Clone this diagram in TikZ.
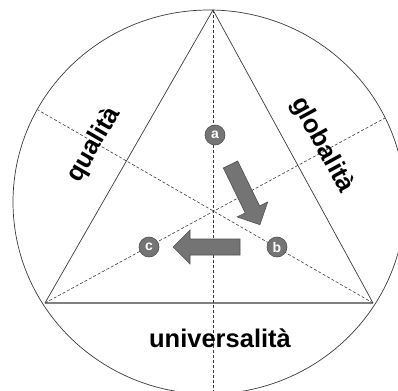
\documentclass[tikz,border=0pt]{standalone}
\usepackage{fontspec}
\setsansfont{Liberation Sans}
\usepackage{tikz}
\usetikzlibrary{calc}
\definecolor{TriInk}{HTML}{3A3A3A}
\definecolor{TriBase}{HTML}{808080}
\definecolor{TriFill}{HTML}{747474}
\definecolor{TriEdge}{HTML}{505050}

\begin{document}
\begin{tikzpicture}[
    x=1pt,y=-1pt,
    font=\sffamily\bfseries,
    side/.style={draw=TriInk,line width=0.7pt},
    axis/.style={draw=TriInk,line width=0.6pt,dash pattern=on 3pt off 2pt},
    corner/.style={circle,fill=TriFill,draw=TriEdge,line width=0.6pt,inner sep=0pt,
      minimum size=20pt,text=white,font=\sffamily\bfseries\fontsize{14}{14}\selectfont},
    aspect/.style={font=\sffamily\bfseries\fontsize{25.5}{25.5}\selectfont,inner sep=0pt},
    blockfill/.style={fill=TriFill,draw=TriEdge,line width=0.6pt},
    blockarrow/.pic={\path[blockfill] (0,-8) -- (50,-8) -- (50,-17) -- (67,0)
      -- (50,17) -- (50,8) -- (0,8) -- cycle;}
  ]
    \useasboundingbox (0,0) rectangle (398,390);
    % circle and corners of the triangle
    \draw[side] (209,202) ellipse [x radius=196,y radius=192];
    \coordinate (top) at (213,10);
    \coordinate (left) at (45,303);
    \coordinate (right) at (373,303);
    \coordinate (endL) at (38,110);
    \coordinate (endR) at (385,118);
    \coordinate (endB) at (213,395);

    \draw[side] (left) -- (top) -- (right);
    \draw[draw=TriBase,line width=1.4pt] (left) -- (right);
    \draw[axis] (top) -- (endB);
    \draw[axis] (left) -- (endR);
    \draw[axis] (right) -- (endL);

    \node[corner] (a) at (215,135) {a};
    \node[corner] (b) at (277,247) {b};
    \node[corner] (c) at (149,247) {c};

    \pic[rotate=-64] at (230.5,164.5) {blockarrow};
    \pic[rotate=180] at (240,247) {blockarrow};

    \node[aspect,rotate=60] (quality) at (94,145) {qualità};
    \node[aspect,rotate=-61.4] (global) at (322,145) {globalità};
    \node[aspect] (universal) at (220,338) {universalità};
  \end{tikzpicture}
\end{document}
